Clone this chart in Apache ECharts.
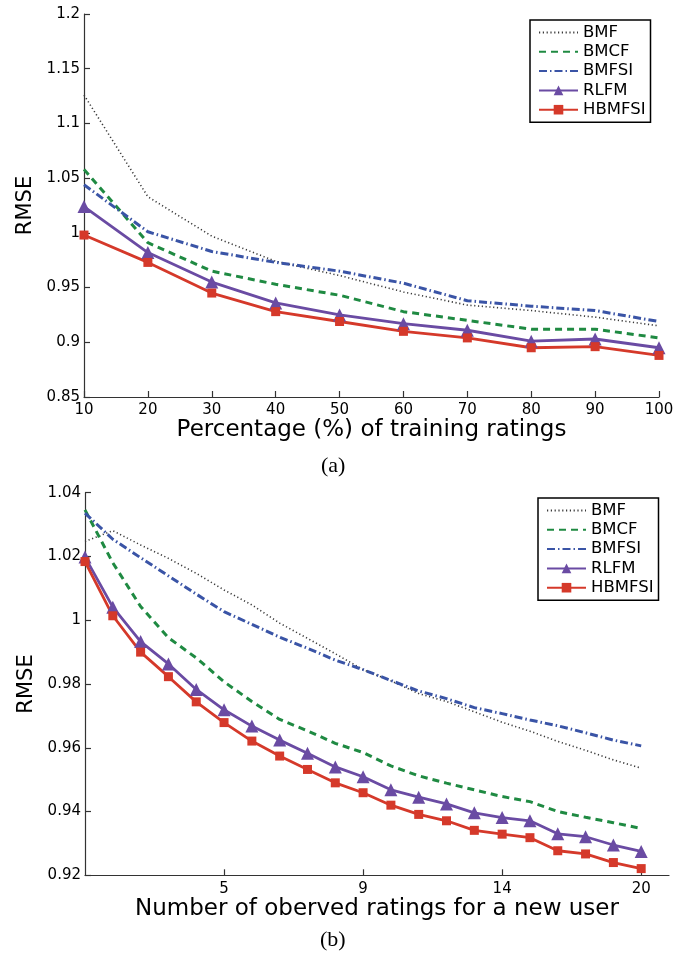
<!DOCTYPE html>
<html>
<head>
<meta charset="utf-8">
<script src="https://cdn.jsdelivr.net/npm/echarts@6/dist/echarts.min.js"></script>
<style>
html,body{margin:0;padding:0;background:#fff;}
#chart{width:688px;height:957px;}
</style>
</head>
<body>
<div id="chart"></div>
<script>
// ---- Data: panel (a) ----
const seriesNames = ['BMF', 'BMCF', 'BMFSI', 'RLFM', 'HBMFSI'];
const topX = [10, 20, 30, 40, 50, 60, 70, 80, 90, 100];
const topBMF    = [1.126, 1.033, 0.997, 0.974, 0.961, 0.946, 0.934, 0.929, 0.923, 0.915];
const topBMCF   = [1.058, 0.991, 0.965, 0.953, 0.943, 0.928, 0.920, 0.912, 0.912, 0.904];
const topBMFSI  = [1.044, 1.001, 0.983, 0.973, 0.965, 0.954, 0.938, 0.933, 0.929, 0.919];
const topRLFM   = [1.024, 0.982, 0.955, 0.936, 0.925, 0.917, 0.911, 0.901, 0.903, 0.895];
const topHBMFSI = [0.998, 0.973, 0.945, 0.928, 0.919, 0.910, 0.904, 0.895, 0.896, 0.888];

// ---- Data: panel (b) ----
const botX = [0, 1, 2, 3, 4, 5, 6, 7, 8, 9, 10, 11, 12, 13, 14, 15, 16, 17, 18, 19, 20];
const botBMF    = [1.0247, 1.0281, 1.0236, 1.0194, 1.0147, 1.0095, 1.0048, 0.9991, 0.9943, 0.9895, 0.9845, 0.9810, 0.9770, 0.9745, 0.9713, 0.9680, 0.9652, 0.9620, 0.9592, 0.9562, 0.9536];
const botBMCF   = [1.0346, 1.0180, 1.0043, 0.9945, 0.9882, 0.9807, 0.9745, 0.9689, 0.9653, 0.9614, 0.9585, 0.9543, 0.9512, 0.9489, 0.9468, 0.9447, 0.9431, 0.9400, 0.9382, 0.9365, 0.9347];
const botBMFSI  = [1.0336, 1.0254, 1.0196, 1.0139, 1.0082, 1.0027, 0.9987, 0.9947, 0.9912, 0.9875, 0.9845, 0.9811, 0.9778, 0.9754, 0.9726, 0.9707, 0.9687, 0.9669, 0.9647, 0.9624, 0.9606];
const botRLFM   = [1.0198, 1.0041, 0.9933, 0.9863, 0.9783, 0.9719, 0.9668, 0.9624, 0.9583, 0.9540, 0.9509, 0.9468, 0.9445, 0.9424, 0.9396, 0.9381, 0.9371, 0.9330, 0.9321, 0.9295, 0.9275];
const botHBMFSI = [1.0184, 1.0014, 0.9900, 0.9823, 0.9744, 0.9679, 0.9621, 0.9574, 0.9532, 0.9490, 0.9459, 0.9420, 0.9391, 0.9371, 0.9341, 0.9329, 0.9318, 0.9277, 0.9267, 0.9240, 0.9221];
const botTickPos = [5, 10, 15, 20];
const botTickLabels = ['5', '9', '14', '20'];

const topXName = 'Percentage (%) of training ratings';
const botXName = 'Number of oberved ratings for a new user';
const yName = 'RMSE';
const captions = ['(a)', '(b)'];

// ---- Styling ----
const FONT = 'DejaVu Sans';
const styles = {
  BMF:    { color: '#3a3a3a', width: 1.6, type: [1.2, 2.6], symbol: 'none', size: 0 },
  BMCF:   { color: '#1f8a42', width: 3, type: [7, 5], symbol: 'none', size: 0 },
  BMFSI:  { color: '#3a54a6', width: 3, type: [8, 3, 1.5, 3], symbol: 'none', size: 0 },
  RLFM:   { color: '#6a4ba3', width: 2.8, type: 'solid', symbol: 'triangle', size: 13 },
  HBMFSI: { color: '#d5392a', width: 2.8, type: 'solid', symbol: 'rect', size: 9 }
};
const topData = { BMF: topBMF, BMCF: topBMCF, BMFSI: topBMFSI, RLFM: topRLFM, HBMFSI: topHBMFSI };
const botData = { BMF: botBMF, BMCF: botBMCF, BMFSI: botBMFSI, RLFM: botRLFM, HBMFSI: botHBMFSI };

function makeSeries(name, xs, ys, idx) {
  const s = styles[name];
  return {
    name: name, type: 'line', xAxisIndex: idx, yAxisIndex: idx,
    data: xs.map((x, i) => [x, ys[i]]),
    symbol: s.symbol, symbolSize: s.size, showSymbol: s.symbol !== 'none',
    lineStyle: { color: s.color, width: s.width, type: s.type },
    itemStyle: { color: s.color, borderColor: s.color, borderWidth: 0 },
    emphasis: { disabled: true },
    animation: false, z: 10 - idx
  };
}
const series = [];
seriesNames.forEach(n => series.push(makeSeries(n, topX, topData[n], 0)));
seriesNames.forEach(n => series.push(makeSeries(n, botX, botData[n], 1)));

function yFmt(v) { return String(parseFloat(v.toFixed(3))); }
const axisLineStyle = { color: '#333', width: 1.2 };
const labelStyle = { color: '#000', fontFamily: FONT, fontSize: 15 };
const nameStyle = { color: '#000', fontFamily: FONT, fontSize: 23 };
const yNameStyle = { color: '#000', fontFamily: FONT, fontSize: 21 };

function legendFor(left, top) {
  return {
    orient: 'vertical', left: left, top: top,
    data: seriesNames.map(n => styles[n].symbol === 'none'
      ? { name: n, itemStyle: { opacity: 0 } }
      : { name: n }),
    itemWidth: 39, itemHeight: 12, itemGap: 2.3,
    padding: [4, 5, 4, 8],
    borderColor: '#000', borderWidth: 1.5, backgroundColor: '#fff',
    selectedMode: false,
    textStyle: { color: '#000', fontFamily: FONT, fontSize: 16.5, lineHeight: 16, padding: [0, 0, 0, 0] }
  };
}

const option = {
  backgroundColor: '#fff',
  animation: false,
  grid: [
    { left: 84, right: 29, top: 14, bottom: 560, outerBoundsMode: 'none', containLabel: false },
    { left: 85, right: 19, top: 492.7, bottom: 81.7, outerBoundsMode: 'none', containLabel: false }
  ],
  xAxis: [
    {
      type: 'value', gridIndex: 0, min: 10, max: 100, interval: 10,
      name: topXName, nameLocation: 'middle', nameGap: 20, nameTextStyle: nameStyle,
      axisLine: { lineStyle: axisLineStyle },
      axisTick: { inside: true, length: 6, lineStyle: axisLineStyle },
      axisLabel: Object.assign({ margin: 6 }, labelStyle),
      splitLine: { show: false }
    },
    {
      type: 'value', gridIndex: 1, min: 0, max: 21,
      name: botXName, nameLocation: 'middle', nameGap: 20, nameTextStyle: nameStyle,
      axisLine: { lineStyle: axisLineStyle },
      axisTick: { inside: true, length: 6, lineStyle: axisLineStyle, customValues: botTickPos },
      axisLabel: Object.assign({
        margin: 6, customValues: botTickPos,
        formatter: v => { const k = botTickPos.indexOf(Math.round(v)); return k >= 0 ? botTickLabels[k] : ''; }
      }, labelStyle),
      splitLine: { show: false }
    }
  ],
  yAxis: [
    {
      type: 'value', gridIndex: 0, min: 0.85, max: 1.2, interval: 0.05,
      name: yName, nameLocation: 'middle', nameGap: 48, nameRotate: 90,
      nameTextStyle: yNameStyle,
      axisLine: { show: true, lineStyle: axisLineStyle },
      axisTick: { show: true, inside: true, length: 6, lineStyle: axisLineStyle },
      axisLabel: Object.assign({ margin: 4, formatter: yFmt }, labelStyle),
      splitLine: { show: false }
    },
    {
      type: 'value', gridIndex: 1, min: 0.92, max: 1.04, interval: 0.02,
      name: yName, nameLocation: 'middle', nameGap: 48, nameRotate: 90,
      nameTextStyle: yNameStyle,
      axisLine: { show: true, lineStyle: axisLineStyle },
      axisTick: { show: true, inside: true, length: 6, lineStyle: axisLineStyle },
      axisLabel: Object.assign({ margin: 4, formatter: yFmt }, labelStyle),
      splitLine: { show: false }
    }
  ],
  legend: [legendFor(530, 20), legendFor(538, 498)],
  graphic: [
    { type: 'text', left: 321, top: 455, style: { text: captions[0], font: '22px "Liberation Serif"', fill: '#000' } },
    { type: 'text', left: 320, top: 929, style: { text: captions[1], font: '22px "Liberation Serif"', fill: '#000' } }
  ],
  series: series
};

const chart = echarts.init(document.getElementById('chart'), null, { renderer: 'canvas' });
chart.setOption(option);
</script>
</body>
</html>
